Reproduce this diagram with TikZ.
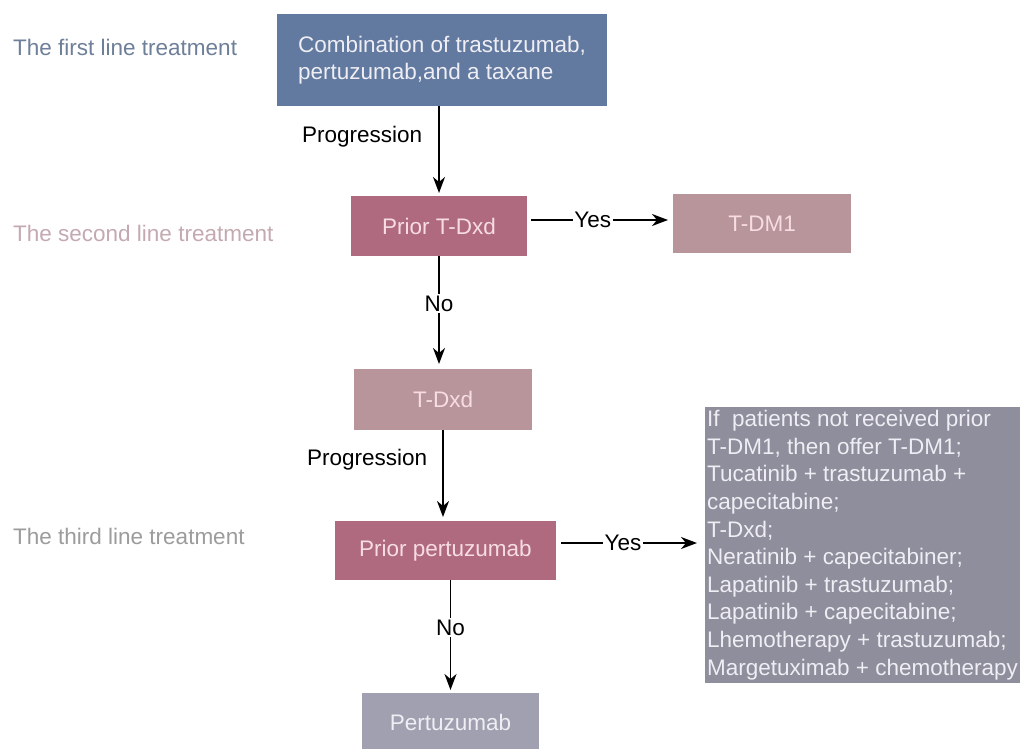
\documentclass[tikz,border=0pt]{standalone}
\usepackage{fontspec}
\setmainfont{Liberation Sans}
\usepackage{tikz}
\usetikzlibrary{arrows.meta,positioning}
\definecolor{firstfill}{HTML}{6279A0}
\definecolor{priorfill}{HTML}{B06A80}
\definecolor{optfill}{HTML}{B8959B}
\definecolor{greyfill}{HTML}{A0A0B0}
\definecolor{listfill}{HTML}{8E8E9C}
\definecolor{firstlbl}{HTML}{6E7F99}
\definecolor{secondlbl}{HTML}{C4AAB0}
\definecolor{thirdlbl}{HTML}{9C9C9C}
\definecolor{pinktext}{HTML}{F7DDE3}
\definecolor{greytext}{HTML}{EEEEF4}

\begin{document}
\begin{tikzpicture}[x=1pt,y=-1pt,
    every node/.style={font=\fontsize{22.5}{27.6}\selectfont},
    box/.style={rectangle,outer sep=0pt,inner sep=0pt,minimum height=60pt},
    firstbox/.style={box,fill=firstfill,text=greytext,align=left},
    priorbox/.style={box,fill=priorfill,text=pinktext},
    optbox/.style={box,fill=optfill,text=pinktext},
    greybox/.style={box,fill=greyfill,text=greytext},
    listbox/.style={box,fill=listfill,text=greytext,align=left},
    lbl/.style={inner sep=0pt},
    yesno/.style={fill=white,inner sep=1.5pt},
    arr/.style={line width=1.8pt,-{Stealth[length=16pt,width=12pt,inset=5pt]}}]
    \useasboundingbox (0,0) rectangle (1022,749);
    \fill[white] (0,0) rectangle (1022,749);

    \node[firstbox,minimum width=330pt,minimum height=92pt] (first) at (442,60)
        {Combination of trastuzumab,\\pertuzumab,and a taxane};
    \node[priorbox,minimum width=176pt,below=90pt of first,xshift=-3pt] (priortdxd) {Prior T-Dxd};
    \node[optbox,minimum width=178pt,minimum height=59pt,right=146pt of priortdxd,yshift=2.5pt] (tdm1) {T-DM1};
    \node[optbox,minimum width=178pt,minimum height=61pt,below=113pt of priortdxd,xshift=4pt] (tdxd) {T-Dxd};
    \node[priorbox,minimum width=221pt,minimum height=59pt,below=91pt of tdxd,xshift=2.5pt] (priorper) {Prior pertuzumab};
    \node[greybox,minimum width=177pt,minimum height=59pt,below=113pt of priorper,xshift=5pt] (pertu) {Pertuzumab};
    \node[listbox,minimum width=315pt,minimum height=276pt,right=149pt of priorper,yshift=5.5pt] (options)
        {If\ \ patients not received prior\\T-DM1, then offer T-DM1;\\Tucatinib + trastuzumab +\\capecitabine;\\T-Dxd;\\Neratinib + capecitabiner;\\Lapatinib + trastuzumab;\\Lapatinib + capecitabine;\\Lhemotherapy + trastuzumab;\\Margetuximab + chemotherapy};

    \node[lbl,text=firstlbl,anchor=west] (firstline) at (13,47) {The first line treatment};
    \node[lbl,text=secondlbl,anchor=west] (secondline) at (13,233) {The second line treatment};
    \node[lbl,text=thirdlbl,anchor=west] (thirdline) at (13,536) {The third line treatment};

    \draw[arr,shorten >=3pt] (priortdxd |- first.south) -- node[lbl,pos=.34,left=16pt] {Progression} (priortdxd.north);
    \draw[arr,shorten <=4pt,shorten >=5pt] ([yshift=6pt]priortdxd.east) -- node[yesno,pos=.45] {Yes} ([yshift=3.5pt]tdm1.west);
    \draw[arr,shorten >=5pt] (priortdxd.south) -- node[yesno,pos=.42] {No} (priortdxd.south |- tdxd.north);
    \draw[arr,shorten >=4pt] (tdxd.south) -- node[lbl,pos=.33,left=15pt] {Progression} (tdxd.south |- priorper.north);
    \draw[arr,shorten <=5pt,shorten >=8pt] ([yshift=7.5pt]priorper.east) -- node[yesno,pos=.45] {Yes} ([yshift=2pt]options.west);
    \draw[arr,shorten >=3pt] (pertu |- priorper.south) -- node[yesno,pos=.42] {No} (pertu.north);
\end{tikzpicture}
\end{document}
